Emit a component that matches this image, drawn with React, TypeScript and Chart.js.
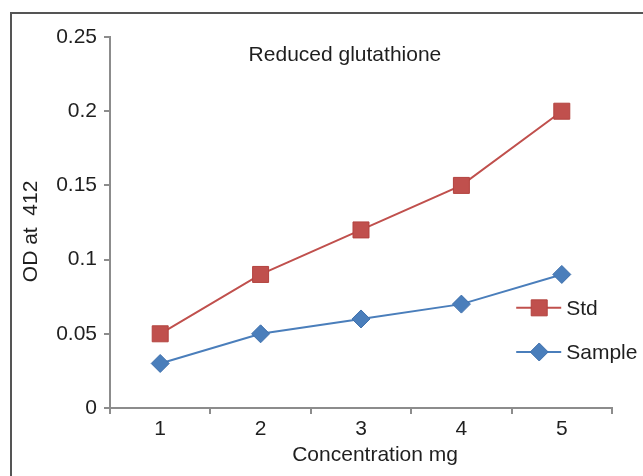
import React, { useEffect, useRef } from "react";
import { Chart, registerables } from "chart.js";

Chart.register(...registerables);

const categories = ["1", "2", "3", "4", "5"];
const stdValues = [0.05, 0.09, 0.12, 0.15, 0.2];
const sampleValues = [0.03, 0.05, 0.06, 0.07, 0.09];
const yTicks = [0, 0.05, 0.1, 0.15, 0.2, 0.25];
const chartTitle = "Reduced glutathione";
const xTitle = "Concentration mg";
const yTitle = "OD at  412";

const FONT = "'Liberation Sans', Arial, sans-serif";
const FS = 21;
const TEXT = "#1f1f1f";
const AXIS = "#8c8c8c";

const overlayPlugin = {
  id: "overlay",
  afterDraw(chart: any) {
    const ctx = chart.ctx;
    const area = chart.chartArea;
    const w = area.right - area.left;
    const h = area.bottom - area.top;
    ctx.save();
    ctx.font = `${FS}px ${FONT}`;
    ctx.fillStyle = TEXT;
    ctx.textAlign = "center";
    ctx.textBaseline = "middle";
    ctx.fillText(chartTitle, area.left + w * 0.468, area.top + 18);
    // axis titles
    ctx.fillText(xTitle, area.left + w * 0.528, area.bottom + 47);
    ctx.save();
    ctx.translate(area.left - 79, area.top + h * 0.524);
    ctx.rotate(-Math.PI / 2);
    ctx.fillText(yTitle, 0, 0);
    ctx.restore();
    // legend
    const items = chart.data.datasets;
    const lx = area.left + w * 0.855;
    const ys = [area.top + h * 0.73, area.top + h * 0.849];
    items.forEach((ds: any, i: number) => {
      const y = ys[i];
      ctx.strokeStyle = ds.borderColor;
      ctx.lineWidth = 2;
      ctx.beginPath();
      ctx.moveTo(lx - 23, y);
      ctx.lineTo(lx + 22, y);
      ctx.stroke();
      ctx.fillStyle = ds.pointBackgroundColor;
      ctx.strokeStyle = ds.pointBorderColor;
      ctx.lineWidth = 1;
      ctx.beginPath();
      if (ds.pointStyle === "rect") {
        ctx.rect(lx - 8, y - 8, 16, 16);
      } else {
        ctx.moveTo(lx, y - 9);
        ctx.lineTo(lx + 9, y);
        ctx.lineTo(lx, y + 9);
        ctx.lineTo(lx - 9, y);
        ctx.closePath();
      }
      ctx.fill();
      ctx.stroke();
      ctx.fillStyle = TEXT;
      ctx.textAlign = "left";
      ctx.font = `${FS}px ${FONT}`;
      ctx.fillText(ds.label, lx + 27, y + 1);
    });
    ctx.restore();
  },
};

export default function App() {
  const ref = useRef<HTMLCanvasElement>(null);
  useEffect(() => {
    const chart = new Chart(ref.current!, {
      type: "line",
      data: {
        labels: categories,
        datasets: [
          {
            label: "Std",
            data: stdValues,
            borderColor: "#C0504D",
            borderWidth: 2,
            pointStyle: "rect",
            pointRadius: 11.3,
            pointBackgroundColor: "#C0504D",
            pointBorderColor: "#B3433F",
            pointBorderWidth: 1,
            tension: 0,
          } as any,
          {
            label: "Sample",
            data: sampleValues,
            borderColor: "#4A7EBB",
            borderWidth: 2,
            pointStyle: "rectRot",
            pointRadius: 9,
            pointBackgroundColor: "#4A7EBB",
            pointBorderColor: "#3F70AC",
            pointBorderWidth: 1,
            tension: 0,
          } as any,
        ],
      },
      options: {
        animation: false,
        responsive: false,
        maintainAspectRatio: false,
        layout: { padding: { left: 0, top: 37, right: 31, bottom: 0 } },
        plugins: { legend: { display: false }, tooltip: { enabled: false }, title: { display: false } },
        scales: {
          x: {
            type: "category",
            offset: true,
            grid: { display: true, drawOnChartArea: false, offset: true, tickLength: 6, color: AXIS, lineWidth: 2 },
            border: { color: AXIS, width: 2 },
            ticks: { color: TEXT, font: { family: FONT, size: FS }, padding: 3, maxRotation: 0 },
            title: { display: false },
            afterFit: (s: any) => { s.height = 68; },
          },
          y: {
            min: 0,
            max: 0.25,
            afterBuildTicks: (s: any) => { s.ticks = yTicks.map((v) => ({ value: v })); },
            grid: { display: true, drawOnChartArea: false, tickLength: 6, color: AXIS, lineWidth: 2 },
            border: { color: AXIS, width: 2 },
            ticks: { color: TEXT, font: { family: FONT, size: FS }, padding: 7, callback: (v: any) => String(Number(v)) },
            title: { display: false },
            afterFit: (s: any) => { s.width = 110; },
          },
        },
      },
      plugins: [overlayPlugin],
    });
    return () => chart.destroy();
  }, []);
  return (
    <div style={{ position: "fixed", left: 0, top: 0, width: 643, height: 476, overflow: "hidden", background: "#fff" }}>
      <div style={{ position: "absolute", left: 10, top: 12, width: 700, height: 600, border: "2px solid #555", boxSizing: "border-box" }} />
      <canvas ref={ref} width={643} height={476} style={{ position: "absolute", left: 0, top: 0, width: 643, height: 476 }} />
    </div>
  );
}
